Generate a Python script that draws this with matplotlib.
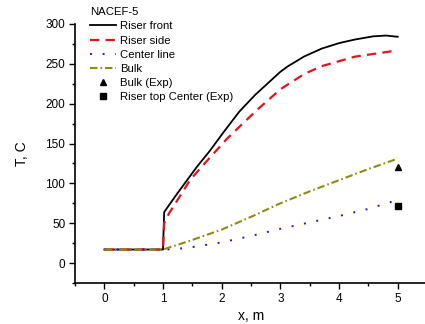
import matplotlib.pyplot as plt
from matplotlib.ticker import MultipleLocator

plt.rcParams['font.family'] = ['Liberation Sans', 'DejaVu Sans']

# values
x_front = [0, 1.0, 1.02, 1.25, 1.58, 1.8, 2.03, 2.3, 2.57, 3.0, 3.13, 3.4, 3.7, 4.0, 4.27, 4.58, 4.8, 5.0]
t_front = [17, 17, 64, 88, 121, 141, 164, 190, 211, 240, 247, 259, 269, 276, 280.5, 284.5, 285.5, 284]

x_side = [0, 1.0, 1.02, 1.1, 1.46, 1.66, 2.09, 2.6, 3.0, 3.4, 3.7, 4.27, 4.92]
t_side = [17, 17, 50, 62, 104, 121, 156, 192, 218, 237, 247, 259, 266]

x_center = [0, 1.0, 1.2, 1.5, 2.0, 2.5, 3.0, 3.5, 4.0, 4.5, 4.9]
t_center = [17, 17, 17.5, 20, 26, 34, 43, 51, 59, 68, 77]

x_bulk = [0, 1.0, 1.5, 2.0, 2.5, 3.0, 3.5, 4.0, 4.5, 5.0]
t_bulk = [17, 17, 29, 42, 58, 75, 90, 104, 118, 131]

x_exp = [5.0]
t_bulk_exp = [121]
t_top_exp = [71]

fig = plt.figure(figsize=(4.25, 3.24), dpi=100)
ax = fig.add_axes([75 / 425, 41 / 324, 352 / 425, 259 / 324])

ax.plot(x_front, t_front, color='black', lw=1.3, label='Riser front')
ax.plot(x_side, t_side, color='#e4141c', lw=1.6, linestyle=(0, (4.2, 2.8)), label='Riser side')
ax.plot(x_center, t_center, color='#1c1ccc', lw=1.4, linestyle=(0, (1, 5.5)), label='Center line')
ax.plot(x_bulk, t_bulk, color='#8c8c14', lw=1.5, linestyle=(0, (3.6, 1.4, 0.8, 1.4)), label='Bulk')
ax.plot(x_exp, t_bulk_exp, '^', color='black', ms=5, linestyle='none', label='Bulk (Exp)')
ax.plot(x_exp, t_top_exp, 's', color='black', ms=4.5, linestyle='none', label='Riser top Center (Exp)')

ax.set_xlim(-0.5, 5.5)
ax.set_ylim(-25, 300)
ax.xaxis.set_major_locator(MultipleLocator(1))
ax.xaxis.set_minor_locator(MultipleLocator(0.5))
ax.yaxis.set_major_locator(MultipleLocator(50))
ax.yaxis.set_minor_locator(MultipleLocator(25))
ax.set_xticks([0, 1, 2, 3, 4, 5])

for side in ['top', 'right']:
    ax.spines[side].set_visible(False)
ax.spines['left'].set_linewidth(1.2)
ax.spines['bottom'].set_linewidth(1.2)
ax.tick_params(which='major', length=4.5, width=1, labelsize=8.5, direction='out', pad=2.5)
ax.tick_params(which='minor', length=2.5, width=1, direction='out')

ax.set_xlabel('x, m', fontsize=10, labelpad=3)
ax.set_ylabel('T, C', fontsize=10, labelpad=12)

leg = ax.legend(loc='upper left', bbox_to_anchor=(84.5 / 425, 1 - 1.5 / 324), bbox_transform=fig.transFigure,
                title='NACEF-5', frameon=False, fontsize=8.2, title_fontsize=8.2,
                handlelength=2.3, handletextpad=0.3, labelspacing=0.37, borderpad=0.0,
                alignment='left')

plt.savefig('out.png', dpi=100)
plt.close()
